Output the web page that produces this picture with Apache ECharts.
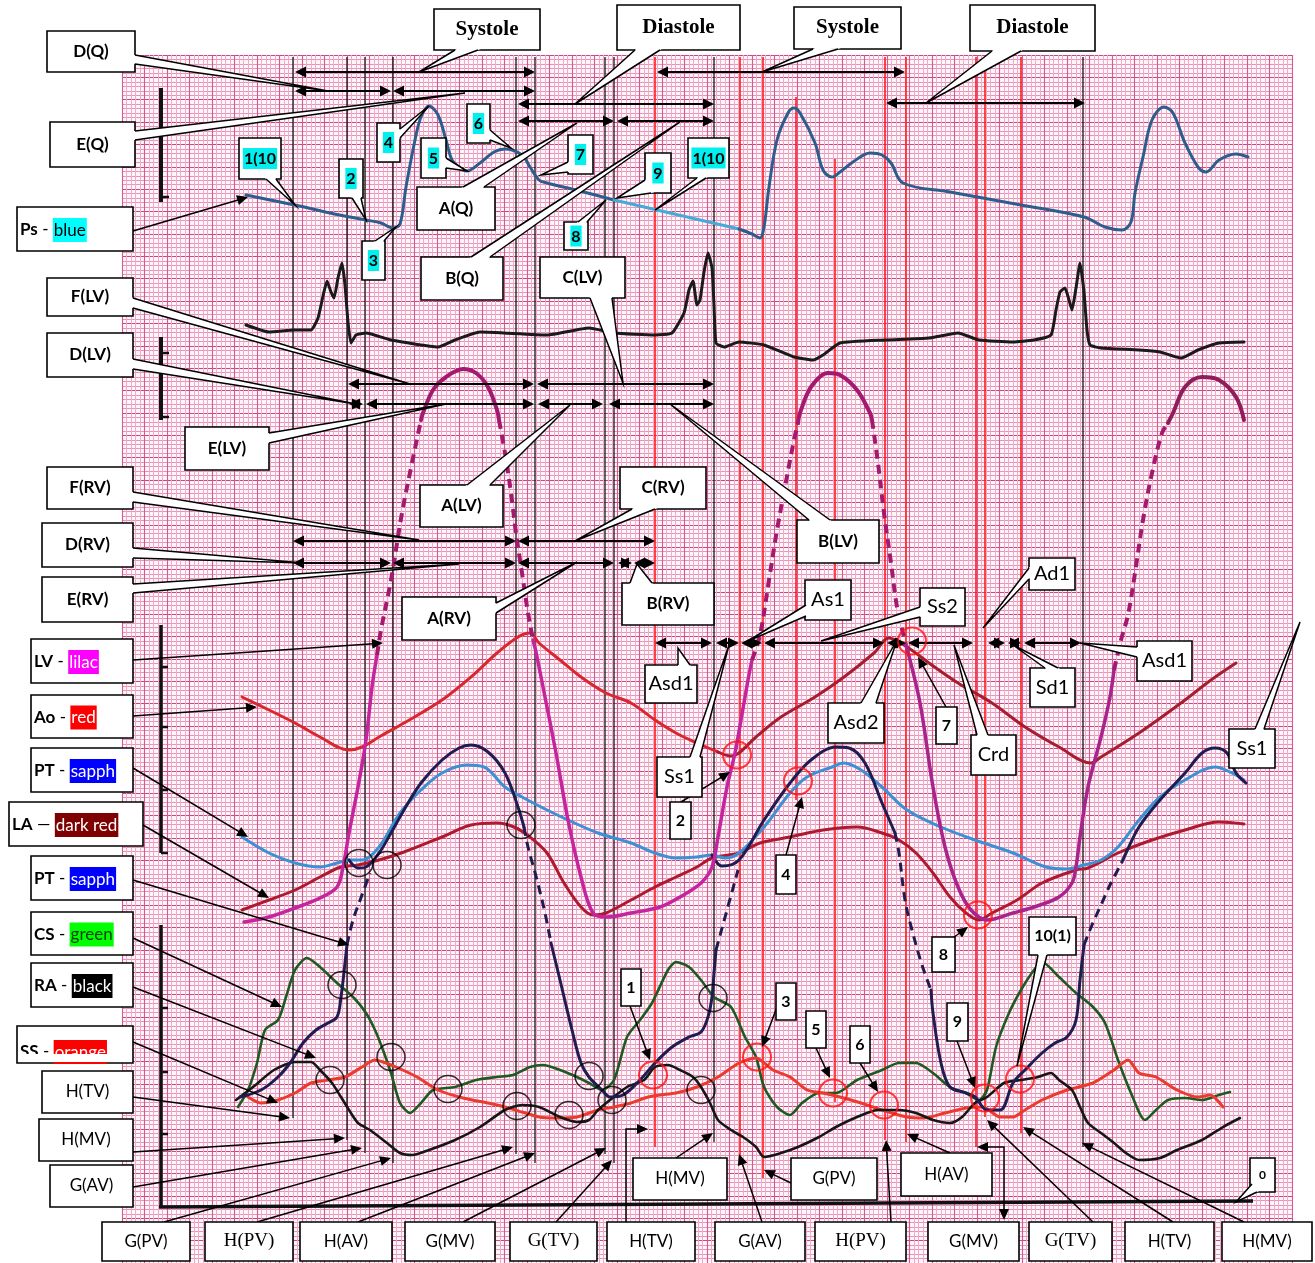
<!DOCTYPE html>
<html><head><meta charset="utf-8">
<script src="https://cdn.jsdelivr.net/npm/echarts@6/dist/echarts.min.js"></script>
<style>html,body{margin:0;padding:0;background:#fff}#c{width:1315px;height:1263px}</style>
</head><body><div id="c"></div>
<script>
// ---------------- DATA (x = time units, y = trace units) ----------------
const ps = [[246,195],[270,200],[295,205],[330,213],[366,220],[381,223],[393,228],[400,224],[406,187],[415,140],[421,117],[429,106],[438,115],[446,140],[452,160],[460,168],[467,171],[480,163],[494,152],[505,149],[522,155],[530,167],[539,180],[547,183],[580,191],[614,200],[657,210],[700,220],[739,229],[752,234],[760,238],[764,227],[769,187],[777,140],[788,113],[794,108],[800,113],[815,143],[823,170],[832,177],[840,172],[853,162],[870,153],[882,155],[891,163],[903,183],[950,192],[1021,205],[1084,217],[1105,227],[1122,230],[1131,222],[1135,193],[1143,157],[1152,120],[1164,107],[1173,113],[1185,143],[1198,167],[1206,172],[1219,160],[1236,154],[1248,157]];
const ecg = [[246,325],[269,332],[295,330],[311,330],[318,318],[323,296],[327,281],[331,292],[334,298],[338,278],[342,263],[345,285],[348,322],[351,343],[356,335],[366,333],[391,340],[438,347],[455,340],[480,332],[547,335],[589,328],[614,333],[655,335],[672,333],[684,313],[689,290],[693,281],[697,305],[700,300],[704,272],[708,253],[712,268],[714,305],[716,343],[724,347],[739,342],[764,345],[794,357],[813,360],[823,355],[840,343],[886,340],[929,338],[958,333],[979,340],[1013,342],[1034,340],[1051,335],[1056,310],[1060,292],[1065,288],[1069,300],[1072,310],[1076,288],[1080,263],[1084,292],[1087,330],[1090,345],[1101,348],[1139,350],[1160,352],[1181,358],[1198,350],[1219,343],[1244,342]];
// LV (lilac) pieces: solid / dashed
const lvRise1 = [[244,922],[269,917],[295,908],[320,898],[337,887],[343,867],[349,833],[358,787],[366,740],[372,687],[377,655]];
const lvDash1 = [[377,655],[381,630],[391,580],[402,513],[412,463],[421,420]];
const lvTop1 = [[421,420],[423,413],[433,390],[446,377],[463,369],[476,373],[488,387],[497,410],[499,420]];
const lvDash2 = [[499,420],[505,453],[511,493],[516,533],[522,573],[528,613],[533,640]];
const lvFall1 = [[533,640],[536,652],[543,687],[556,753],[568,820],[581,877],[593,913],[606,917],[631,913],[660,907],[680,897],[701,883],[712,867],[718,837],[727,787],[735,753],[741,720],[748,680],[752,660]];
const lvDash3 = [[752,660],[760,635],[769,580],[777,530],[785,487],[794,440],[798,423]];
const lvTop2 = [[798,423],[800,413],[811,387],[828,373],[840,375],[857,390],[870,413],[872,420]];
const lvDash4 = [[872,420],[878,463],[884,513],[891,563],[897,607],[903,633],[906,645]];
const lvFall2 = [[906,645],[920,703],[933,787],[945,847],[958,887],[971,910],[987,920],[1013,913],[1034,907],[1059,897],[1072,883],[1076,867],[1080,837],[1088,787],[1101,737],[1110,697],[1114,670]];
const lvDash5 = [[1114,670],[1121,640],[1128,615],[1135,573],[1143,520],[1152,473],[1162,433],[1168,423]];
const lvTop3 = [[1168,423],[1173,413],[1185,387],[1202,377],[1219,380],[1236,397],[1244,420]];
const ao = [[242,697],[269,710],[295,723],[320,737],[349,750],[362,747],[379,737],[404,723],[442,700],[471,677],[497,653],[518,637],[530,633],[539,643],[560,660],[581,677],[606,693],[631,703],[655,720],[676,733],[697,743],[718,752],[731,756],[739,753],[756,737],[781,717],[815,697],[844,677],[874,653],[889,638],[907,647],[929,663],[958,683],[992,703],[1025,727],[1059,747],[1091,763],[1101,757],[1139,733],[1181,703],[1211,680],[1236,663]];
const ptLight = [[242,837],[269,853],[295,863],[320,867],[337,863],[349,860],[362,860],[379,847],[400,813],[421,790],[442,773],[467,765],[484,767],[505,787],[522,797],[547,810],[568,820],[598,833],[631,843],[655,853],[676,858],[697,857],[712,855],[725,858],[739,853],[764,827],[790,793],[807,777],[832,767],[844,763],[861,770],[882,787],[907,810],[941,827],[975,840],[1013,853],[1046,867],[1067,869],[1084,865],[1101,860],[1118,847],[1139,820],[1160,797],[1185,780],[1215,767],[1232,773],[1244,780]];
// PT (sapphire, dark) pieces
const ptn1 = [[240,1097],[261,1090],[278,1077],[290,1063],[303,1043],[316,1030],[328,1023],[337,1017],[341,997],[345,963],[347,945]];
const ptn2 = [[347,945],[353,920],[362,895],[370,873]];
const ptn3 = [[349,860],[358,868],[366,867],[379,853],[391,833],[404,810],[421,783],[442,760],[459,748],[471,745],[488,752],[505,773],[518,807],[524,827]];
const ptn4 = [[524,827],[528,847],[537,880],[545,913],[551,943]];
const ptn5 = [[551,943],[560,980],[572,1030],[581,1063],[589,1077],[602,1090],[610,1097],[623,1095],[640,1080],[655,1063],[672,1047],[689,1037],[701,1032],[708,1017],[712,997],[714,973],[716,950]];
const ptn6 = [[716,950],[727,910],[738,870]];
const ptn7 = [[712,855],[722,866],[739,860],[764,820],[790,783],[811,760],[836,747],[849,748],[865,763],[882,803],[895,833]];
const ptn8 = [[895,833],[899,853],[905,900],[912,930],[922,965],[931,990]];
const ptn9 = [[931,990],[933,1013],[941,1063],[950,1087],[966,1093],[975,1097],[987,1110],[1000,1110],[1013,1083],[1025,1070],[1042,1053],[1055,1043],[1067,1037],[1076,1020],[1080,980],[1084,945]];
const ptn10 = [[1084,945],[1092,925],[1101,905],[1110,885],[1122,862]];
const ptn11 = [[1122,862],[1126,853],[1139,827],[1160,800],[1185,773],[1202,753],[1215,748],[1227,753],[1236,773],[1246,783]];
const la = [[242,910],[269,900],[295,890],[320,877],[341,867],[358,865],[379,860],[404,852],[442,837],[471,825],[497,823],[514,827],[530,837],[547,853],[564,883],[581,907],[593,915],[606,913],[631,900],[655,887],[676,877],[697,867],[712,858],[739,853],[760,843],[790,837],[823,830],[857,827],[882,833],[899,840],[916,853],[933,873],[950,897],[966,913],[979,920],[992,913],[1017,900],[1042,883],[1076,870],[1088,868],[1118,853],[1152,840],[1185,830],[1219,822],[1244,824]];
const cs = [[238,1107],[248,1090],[257,1063],[265,1030],[278,1020],[286,997],[295,970],[307,958],[320,967],[337,983],[354,998],[366,1013],[375,1030],[383,1050],[391,1073],[400,1103],[410,1113],[421,1103],[433,1090],[455,1087],[476,1080],[497,1077],[513,1075],[530,1067],[543,1065],[560,1070],[577,1077],[589,1083],[602,1090],[614,1080],[627,1037],[640,1020],[652,1003],[668,970],[676,962],[689,967],[701,980],[714,997],[731,1007],[745,1037],[756,1057],[764,1087],[777,1107],[790,1115],[802,1103],[819,1093],[836,1093],[857,1080],[882,1070],[899,1063],[916,1063],[933,1073],[950,1087],[966,1093],[979,1100],[987,1090],[996,1047],[1009,1013],[1021,990],[1034,970],[1042,962],[1059,977],[1076,993],[1093,1007],[1105,1023],[1118,1060],[1131,1093],[1145,1120],[1156,1110],[1168,1100],[1185,1098],[1202,1100],[1219,1095],[1230,1092]];
const ra = [[236,1100],[253,1087],[274,1070],[295,1062],[311,1062],[320,1070],[332,1083],[341,1097],[349,1110],[358,1123],[370,1130],[387,1143],[400,1153],[412,1155],[429,1150],[455,1140],[480,1127],[505,1110],[522,1105],[539,1107],[560,1117],[577,1122],[589,1120],[598,1110],[610,1100],[627,1087],[644,1080],[655,1067],[668,1065],[680,1070],[693,1077],[701,1087],[710,1103],[718,1120],[731,1130],[743,1137],[756,1147],[764,1157],[781,1153],[798,1147],[819,1137],[836,1127],[857,1117],[878,1110],[899,1110],[916,1113],[933,1120],[950,1123],[962,1117],[975,1103],[987,1097],[1004,1083],[1021,1080],[1038,1077],[1051,1073],[1059,1080],[1072,1090],[1080,1107],[1088,1123],[1101,1133],[1114,1143],[1126,1153],[1139,1160],[1160,1158],[1177,1150],[1202,1140],[1223,1127],[1240,1118]];
const ss = [[248,1097],[261,1103],[278,1100],[295,1093],[311,1083],[328,1080],[345,1077],[362,1067],[375,1060],[383,1062],[396,1067],[417,1077],[438,1090],[463,1098],[488,1103],[505,1107],[522,1112],[539,1117],[556,1118],[577,1117],[598,1110],[614,1107],[631,1103],[648,1097],[660,1095],[676,1093],[697,1087],[718,1077],[739,1063],[756,1058],[773,1070],[790,1077],[807,1090],[823,1093],[840,1097],[861,1103],[882,1110],[907,1117],[924,1118],[945,1113],[966,1108],[983,1107],[1000,1117],[1013,1117],[1025,1110],[1042,1100],[1067,1090],[1093,1083],[1114,1070],[1128,1060],[1139,1073],[1156,1077],[1177,1090],[1198,1097],[1210,1095],[1223,1107]];
// event markers (time of each vertical line)
const blackEvents = [293,347,365,393,516,535,605,614,714,1083];
const redEvents = [655,740,763,796,835,885,906,976,985,1021];
// crossing points marked with circles
const blackCircles = [[359,863],[387,865],[521,825],[342,985],[330,1080],[391,1057],[448,1089],[517,1106],[569,1115],[589,1076],[612,1100],[713,998],[701,1090]];
const redCircles = [[737,755],[798,781],[912,641],[978,915],[653,1075],[757,1057],[833,1093],[884,1105],[985,1098],[1020,1079]];
// interval arrows [start, end, level]
const intervals = [[295,535,72],[295,391,91],[393,535,91],[518,714,104],[518,614,121],[617,714,121],[657,905,72],[886,1085,103],
 [348,534,384],[537,714,384],[349,363,404],[366,534,404],[538,603,404],[609,714,404],
 [293,516,541],[518,655,541],[293,391,563],[393,516,563],[518,614,563],[618,632,563],[634,655,563],
 [655,712,643],[716,739,643],[741,762,643],[764,884,643],[887,906,643],[908,973,643],[988,1005,643],[1008,1021,643],[1024,1081,643]];

// ---------------- LAYOUT (annotation boxes, pointers) ----------------
const redEnds = {655:[57,1147],740:[57,1157],763:[57,1178],796:[97,800],835:[159,1102],885:[57,1140],906:[57,1142],976:[57,1147],985:[57,1117],1021:[57,1133]};
const blackEnds = {293:1118,347:1140,365:1153,393:1163,516:1154,535:1163,605:1154,614:1163,714:1142,1083:1147};
const boxes = [
 {r:[47,31,135,72], t:'D(Q)', f:'B', w:[135,55,135,64,328,91]},
 {r:[50,122,135,167], t:'E(Q)', f:'B', w:[135,131,135,140,465,93]},
 {r:[434,9,540,50], t:'Systole', f:'S', w:[455,50,478,50,419,72]},
 {r:[617,5,740,50], t:'Diastole', f:'S', w:[635,50,660,50,575,104]},
 {r:[794,7,901,49], t:'Systole', f:'S', w:[813,49,838,49,762,72]},
 {r:[970,5,1095,51], t:'Diastole', f:'S', w:[992,51,1021,51,926,103]},
 {r:[239,138,281,179], t:'{h|1(10}', f:'H', w:[266,179,276,179,295,205]},
 {r:[339,159,363,198], t:'{h|2}', f:'H', w:[352,198,361,198,366,220]},
 {r:[362,241,385,280], t:'{h|3}', f:'H', w:[375,241,384,241,396,227]},
 {r:[377,123,400,162], t:'{h|4}', f:'H', w:[400,129,400,138,429,106]},
 {r:[421,138,446,178], t:'{h|5}', f:'H', w:[446,158,446,168,467,171]},
 {r:[467,104,490,143], t:'{h|6}', f:'H', w:[490,130,490,140,511,148]},
 {r:[568,135,593,174], t:'{h|7}', f:'H', w:[568,162,568,172,541,175]},
 {r:[564,222,588,250], t:'{h|8}', f:'H', w:[578,222,587,222,606,200]},
 {r:[645,153,671,193], t:'{h|9}', f:'H', w:[645,180,651,193,617,198]},
 {r:[688,138,729,178], t:'{h|1(10}', f:'H', w:[697,178,706,178,655,210]},
 {r:[417,187,495,230], t:'A(Q)', f:'B', w:[463,187,484,187,577,123]},
 {r:[421,257,503,300], t:'B(Q)', f:'B', w:[471,257,490,257,680,122]},
 {r:[540,257,625,298], t:'C(LV)', f:'B', w:[590,298,612,298,623,383]},
 {r:[47,278,133,316], t:'F(LV)', f:'B', w:[133,298,133,308,410,384]},
 {r:[47,333,133,377], t:'D(LV)', f:'B', w:[133,359,133,369,356,404]},
 {r:[185,427,269,470], t:'E(LV)', f:'B', w:[269,433,269,443,446,404]},
 {r:[420,485,503,527], t:'A(LV)', f:'B', w:[467,485,490,485,570,405]},
 {r:[797,520,879,563], t:'B(LV)', f:'B', w:[809,520,830,520,670,404]},
 {r:[47,467,133,509], t:'F(RV)', f:'B', w:[133,492,133,502,419,540]},
 {r:[42,523,133,567], t:'D(RV)', f:'B', w:[133,548,133,558,303,563]},
 {r:[42,577,133,622], t:'E(RV)', f:'B', w:[133,584,133,593,459,564]},
 {r:[402,597,496,640], t:'A(RV)', f:'B', w:[496,603,496,613,577,562]},
 {r:[620,467,706,509], t:'C(RV)', f:'B', w:[632,509,655,509,575,541]},
 {r:[622,583,714,625], t:'B(RV)', f:'B', w:[630,583,652,583,637,564]},
 {r:[805,580,851,620], t:'As1', f:'M', w:[806,605,806,616,748,641]},
 {r:[920,588,965,626], t:'Ss2', f:'M', w:[920,607,920,617,821,641]},
 {r:[1029,558,1075,590], t:'Ad1', f:'M', w:[1029,568,1029,579,983,628]},
 {r:[645,665,697,703], t:'Asd1', f:'M', w:[678,665,690,665,678,648]},
 {r:[657,757,702,797], t:'Ss1', f:'M', w:[690,757,700,757,729,645]},
 {r:[828,703,884,743], t:'Asd2', f:'M', w:[861,703,876,703,897,640]},
 {r:[971,735,1016,775], t:'Crd', f:'M', w:[977,735,988,735,954,645]},
 {r:[1030,668,1075,707], t:'Sd1', f:'M', w:[1045,668,1058,668,1013,645]},
 {r:[1137,641,1192,681], t:'Asd1', f:'M', w:[1137,647,1137,657,1080,643]},
 {r:[1229,729,1275,768], t:'Ss1', f:'M', w:[1255,729,1264,729,1300,622]},
 {r:[670,802,691,839], t:'2', f:'N'},
 {r:[776,855,796,894], t:'4', f:'N'},
 {r:[936,707,957,744], t:'7', f:'N'},
 {r:[932,937,955,972], t:'8', f:'N'},
 {r:[1029,917,1076,955], t:'10(1)', f:'N', w:[1038,955,1047,955,1017,1066]},
 {r:[621,969,641,1006], t:'1', f:'N'},
 {r:[776,983,796,1020], t:'3', f:'N'},
 {r:[806,1011,826,1048], t:'5', f:'N'},
 {r:[850,1026,870,1063], t:'6', f:'N'},
 {r:[947,1003,968,1041], t:'9', f:'N'},
 {r:[1250,1158,1275,1192], t:'0', f:'Z', w:[1252,1184,1257,1192,1236,1202]},
 {r:[17,207,133,251], t:'{b|Ps} - {cy|blue}', f:'L'},
 {r:[31,639,133,683], t:'{b|LV} - {mg|lilac}', f:'L'},
 {r:[31,695,133,738], t:'{b|Ao} - {rd|red}', f:'L'},
 {r:[31,748,133,792], t:'{b|PT} - {bl|sapph}', f:'L'},
 {r:[9,802,143,846], t:'{b|LA} — {dr|dark red}', f:'L'},
 {r:[31,856,133,900], t:'{b|PT} - {bl|sapph}', f:'L'},
 {r:[31,912,133,955], t:'{b|CS} - {gr|green}', f:'L'},
 {r:[31,963,133,1007], t:'{b|RA} - {bk|black}', f:'L'},
 {r:[17,1026,133,1063], t:'{b|SS} - {rd|orange}', f:'L', cut:1054},
 {r:[42,1071,133,1113], t:'H(TV)', f:'R'},
 {r:[39,1119,133,1161], t:'H(MV)', f:'R'},
 {r:[50,1165,133,1207], t:'G(AV)', f:'R'},
 {r:[102,1222,190,1261], t:'G(PV)', f:'R'},
 {r:[205,1222,293,1261], t:'H(PV)', f:'T'},
 {r:[300,1222,392,1261], t:'H(AV)', f:'R'},
 {r:[405,1222,495,1261], t:'G(MV)', f:'R'},
 {r:[510,1222,597,1261], t:'G(TV)', f:'T'},
 {r:[607,1222,695,1261], t:'H(TV)', f:'R'},
 {r:[633,1158,727,1200], t:'H(MV)', f:'R'},
 {r:[715,1222,805,1261], t:'G(AV)', f:'R'},
 {r:[791,1158,877,1200], t:'G(PV)', f:'R'},
 {r:[815,1222,906,1261], t:'H(PV)', f:'T'},
 {r:[901,1153,992,1196], t:'H(AV)', f:'R'},
 {r:[928,1222,1019,1261], t:'G(MV)', f:'R'},
 {r:[1029,1222,1112,1261], t:'G(TV)', f:'T'},
 {r:[1125,1222,1214,1261], t:'H(TV)', f:'R'},
 {r:[1222,1222,1312,1261], t:'H(MV)', f:'R'}
];
const pointers = [
 {p:[[133,231],[248,197]]},{p:[[133,660],[383,643]]},{p:[[133,716],[257,707]]},{p:[[133,768],[248,837]]},
 {p:[[143,825],[269,898]]},{p:[[133,880],[349,945]]},{p:[[133,938],[282,1007]]},{p:[[133,987],[316,1058]]},
 {p:[[133,1042],[278,1103]]},{p:[[133,1097],[290,1118]]},{p:[[133,1152],[345,1138]]},{p:[[133,1187],[362,1148]]},
 {p:[[164,1222],[391,1158]]},{p:[[257,1222],[513,1147]]},{p:[[358,1222],[535,1153]]},{p:[[463,1222],[606,1148]]},
 {p:[[556,1222],[612,1160]]},{p:[[626,1222],[626,1129],[648,1129]]},{p:[[676,1158],[713,1133]]},{p:[[762,1222],[739,1154]]},
 {p:[[791,1183],[764,1170]]},{p:[[891,1222],[886,1140]]},{p:[[950,1153],[907,1134]]},{p:[[977,1147],[1004,1147],[1004,1220]], both:true},
 {p:[[1093,1222],[987,1120]]},{p:[[1173,1222],[1023,1127]]},{p:[[1244,1222],[1082,1143]]},
 {p:[[681,802],[730,772]]},{p:[[786,855],[802,797]]},{p:[[946,707],[918,657]]},{p:[[950,940],[968,927]]},
 {p:[[630,1006],[650,1060]]},{p:[[786,983],[762,1047]]},{p:[[816,1048],[830,1078]]},{p:[[860,1063],[878,1092]]},{p:[[957,1041],[975,1088]]}
];
const bars = [[161,88,161,202,4],[161,197,169,197,2.5],[161,337,161,420,4],[161,353,169,353,2.5],[161,417,169,417,2.5],
 [161,625,161,853,3.5],[161,667,168,667,2.5],[161,727,168,727,2.5],[161,790,168,790,2.5],[161,853,168,853,2.5],
 [161,925,161,1207,3.5],[161,1008,168,1008,2.5],[161,1072,168,1072,2.5],[161,1134,168,1134,2.5],[159,1207,1253,1201,3.5]];

// ---------------- helpers ----------------
const W = 1315, H = 1263;
function splitByX(arr, cuts){ const out=[]; let s=0; for(const c of cuts){ const i=arr.findIndex(p=>p[0]>=c); out.push(arr.slice(s,i+1)); s=i; } out.push(arr.slice(s)); return out; }
function curve(data, color, width, dashed, smooth, z){
  return {type:'line', xAxisIndex:0, yAxisIndex:0, data, smooth: smooth==null?0.35:smooth, showSymbol:false, symbol:'none', silent:true,
    lineStyle:{color, width, type: dashed?[9,6]:'solid', cap: dashed?'butt':'round', join:'round'}, z: z||3};
}
function head(a,b,L,Wd){ const dx=b[0]-a[0], dy=b[1]-a[1], len=Math.hypot(dx,dy)||1, ux=dx/len, uy=dy/len;
  return {type:'polygon', shape:{points:[[b[0],b[1]],[b[0]-L*ux+Wd*uy,b[1]-L*uy-Wd*ux],[b[0]-L*ux-Wd*uy,b[1]-L*uy+Wd*ux]]}, style:{fill:'#000'}}; }
function back(a,b,d){ const dx=b[0]-a[0], dy=b[1]-a[1], len=Math.hypot(dx,dy)||1; return [a[0]-dx/len*d, a[1]-dy/len*d]; }
function toward(a,b,d){ const dx=b[0]-a[0], dy=b[1]-a[1], len=Math.hypot(dx,dy)||1; return [a[0]+dx/len*d, a[1]+dy/len*d]; }
function layer(list, draw, z){
  return {type:'custom', xAxisIndex:0, yAxisIndex:0, z, silent:true, clip:false,
    data: list.map(()=>[0,0]), renderItem:(p,api)=>draw(list[p.dataIndex], api)};
}
const F = {
 B:{fontFamily:'Lato', fontWeight:'bold', fontSize:17},
 S:{fontFamily:'Liberation Serif', fontWeight:'bold', fontSize:21},
 H:{fontFamily:'Lato', fontWeight:'bold', fontSize:16},
 M:{fontFamily:'Lato', fontWeight:'normal', fontSize:20},
 N:{fontFamily:'Lato', fontWeight:'bold', fontSize:16},
 Z:{fontFamily:'Lato', fontWeight:'bold', fontSize:12},
 L:{fontFamily:'Lato', fontWeight:'normal', fontSize:17},
 R:{fontFamily:'Lato', fontWeight:'normal', fontSize:17},
 T:{fontFamily:'Liberation Serif', fontWeight:'normal', fontSize:19}
};
function rs(extra){ return Object.assign({fontFamily:'Lato', fontSize:17, fontWeight:'normal', fill:'#000'}, extra); }
const RICH = {
 h: rs({fontWeight:'bold', fontSize:16, backgroundColor:'#00f0f0', padding:[3,1,2,1]}),
 b: rs({fontWeight:'bold'}),
 cy: rs({backgroundColor:'#00ffff', padding:[4,1,3,1]}),
 mg: rs({fill:'#fff', backgroundColor:'#ff00ff', padding:[4,1,3,1]}),
 rd: rs({fill:'#fff', backgroundColor:'#ff0000', padding:[4,1,3,1]}),
 bl: rs({fill:'#fff', backgroundColor:'#0000ff', padding:[4,1,3,1]}),
 dr: rs({fill:'#fff', backgroundColor:'#7f0000', padding:[4,1,3,1]}),
 gr: rs({fill:'#0b3d0b', backgroundColor:'#00ff00', padding:[4,1,3,1]}),
 bk: rs({fill:'#fff', backgroundColor:'#000000', padding:[4,1,3,1]})
};
function drawBox(b, api){
  const [x1,y1,x2,y2] = b.r; const p1=api.coord([x1,y1]), p2=api.coord([x2,y2]);
  const ch = [{type:'rect', shape:{x:p1[0], y:p1[1], width:p2[0]-p1[0], height:p2[1]-p1[1]}, style:{fill:'#fff', stroke:'#000', lineWidth:1.6}}];
  if (b.w){
    const A=api.coord([b.w[0],b.w[1]]), B=api.coord([b.w[2],b.w[3]]), T=api.coord([b.w[4],b.w[5]]);
    ch.push({type:'polygon', shape:{points:[back(A,T,3),T,back(B,T,3)]}, style:{fill:'#fff'}});
    ch.push({type:'polyline', shape:{points:[A,T,B]}, style:{stroke:'#000', fill:null, lineWidth:1.5}});
  }
  const f = F[b.f]; const left = b.f==='L';
  const cy = b.cut ? 1052 : (y1+y2)/2 + (left?1:0);
  const c = api.coord([left ? x1+3 : (x1+x2)/2, cy]);
  ch.push({type:'text', x:c[0], y:c[1], style:Object.assign({text:b.t, fill:'#000', align:left?'left':'center', verticalAlign:'middle', rich:RICH}, f)});
  if (b.cut){ const q1=api.coord([x1+1,b.cut]), q2=api.coord([x2-1,y2-1]); ch.push({type:'rect', shape:{x:q1[0], y:q1[1], width:q2[0]-q1[0], height:q2[1]-q1[1]}, style:{fill:'#fff'}}); }
  return {type:'group', children:ch};
}
function drawPointer(it, api){
  const pts = it.p.map(v=>api.coord(v)); const n=pts.length; const ch=[];
  let line = pts.slice(); line[n-1] = toward(pts[n-1], pts[n-2], 6);
  if (it.both) line[0] = toward(pts[0], pts[1], 6);
  ch.push({type:'polyline', shape:{points:line}, style:{stroke:'#000', fill:null, lineWidth:1.5}});
  ch.push(head(pts[n-2], pts[n-1], 11, 5));
  if (it.both) ch.push(head(pts[1], pts[0], 11, 5));
  return {type:'group', children:ch};
}
function drawInterval(v, api){
  const a=api.coord([v[0],v[2]]), b=api.coord([v[1],v[2]]);
  return {type:'group', children:[
    {type:'line', shape:{x1:a[0]+6, y1:a[1], x2:b[0]-6, y2:b[1]}, style:{stroke:'#000', lineWidth:2}},
    head(b,a,11,5.5), head(a,b,11,5.5)]};
}
function drawSeg(s, api){ const a=api.coord([s[0],s[1]]), b=api.coord([s[2],s[3]]);
  return {type:'line', shape:{x1:a[0],y1:a[1],x2:b[0],y2:b[1]}, style:{stroke:'#111', lineWidth:s[4], lineCap:'butt'}}; }
function drawEvent(color, width, ends){ return (x, api)=>{ const e = ends[x]; const top = Array.isArray(e)?e[0]:57, bot = Array.isArray(e)?e[1]:e;
  const a=api.coord([x,top]), b=api.coord([x,bot]); return {type:'line', shape:{x1:a[0],y1:a[1],x2:b[0],y2:b[1]}, style:{stroke:color, lineWidth:width}}; }; }

// ---------------- series ----------------
const psSeg = splitByX(ps, [600, 705]);
const aoSeg = splitByX(ao, [700]);
const LVc = '#c4249e', LVd = '#a3196f', LVr = '#a8238c', NAV = '#1f1c52';
const series = [
  {type:'scatter', xAxisIndex:1, yAxisIndex:1, data:[], silent:true},
  layer(blackEvents, drawEvent('#151515', 1.3, blackEnds), 2),
  layer(redEvents, drawEvent('#ff1a1a', 1.6, redEnds), 2),
  layer(bars, drawSeg, 2),
  curve(psSeg[0], '#2c5d8c', 3), curve(psSeg[1], '#45aad8', 3), curve(psSeg[2], '#2c5d8c', 3),
  curve(ecg, '#1a1a1a', 3, false, 0.15),
  curve(aoSeg[0], '#d8272f', 3), curve(aoSeg[1], '#a61d30', 3),
  curve(la, '#ad1a30', 3),
  curve(ptLight, '#3d90d4', 3),
  curve(cs, '#1d5a22', 2.6, false, 0.25),
  curve(ss, '#ea3b2e', 3, false, 0.25),
  curve(ra, '#161616', 2.6, false, 0.25),
  curve(ptn1, NAV, 3), curve(ptn2, NAV, 3, true), curve(ptn3, NAV, 3), curve(ptn4, NAV, 3, true),
  curve(ptn5, NAV, 3), curve(ptn6, NAV, 3, true), curve(ptn7, NAV, 3), curve(ptn8, NAV, 3, true),
  curve(ptn9, NAV, 3), curve(ptn10, NAV, 3, true), curve(ptn11, NAV, 3),
  curve(lvRise1, LVc, 3.5), curve(lvDash1, LVd, 4, true), curve(lvTop1, LVd, 4), curve(lvDash2, LVd, 4, true),
  curve(lvFall1, LVc, 3.5), curve(lvDash3, LVd, 4, true), curve(lvTop2, LVd, 4), curve(lvDash4, LVd, 4, true),
  curve(lvFall2, LVr, 3.5), curve(lvDash5, LVd, 4, true), curve(lvTop3, '#8f1d5c', 4),
  layer(intervals, drawInterval, 5),
  {type:'scatter', xAxisIndex:0, yAxisIndex:0, data:blackCircles, symbol:'circle', symbolSize:[28,27], silent:true, z:6,
    itemStyle:{color:'rgba(0,0,0,0)', borderColor:'#000', borderWidth:1.5}},
  {type:'scatter', xAxisIndex:0, yAxisIndex:0, data:redCircles, symbol:'circle', symbolSize:[28,27], silent:true, z:6,
    itemStyle:{color:'rgba(0,0,0,0)', borderColor:'#ff1010', borderWidth:2}},
  layer(pointers, drawPointer, 7),
  layer(boxes, drawBox, 8)
];

const chart = echarts.init(document.getElementById('c'), null, {renderer:'canvas', width:W, height:H});
chart.setOption({
  animation:false,
  backgroundColor:'#ffffff',
  grid:[
    {left:0, top:0, width:W, height:H, show:false},
    {left:122, top:55, width:1170, height:1215, show:true, backgroundColor:'#fef5f8', borderWidth:0}
  ],
  xAxis:[
    {gridIndex:0, type:'value', min:0, max:W, show:false},
    {gridIndex:1, type:'value', min:0, max:1170, interval:22.5, axisLine:{show:false}, axisTick:{show:false}, axisLabel:{show:false},
      splitLine:{show:true, lineStyle:{color:'#d65a92', width:1.1}}, minorTick:{show:false, splitNumber:5},
      minorSplitLine:{show:true, lineStyle:{color:'#efabc9', width:1}}}
  ],
  yAxis:[
    {gridIndex:0, type:'value', min:0, max:H, inverse:true, show:false},
    {gridIndex:1, type:'value', min:0, max:1215, interval:22.5, axisLine:{show:false}, axisTick:{show:false}, axisLabel:{show:false},
      splitLine:{show:true, lineStyle:{color:'#cc4580', width:1.1}}, minorTick:{show:false, splitNumber:5},
      minorSplitLine:{show:true, lineStyle:{color:'#e694b8', width:1}}}
  ],
  series
});
</script></body></html>
